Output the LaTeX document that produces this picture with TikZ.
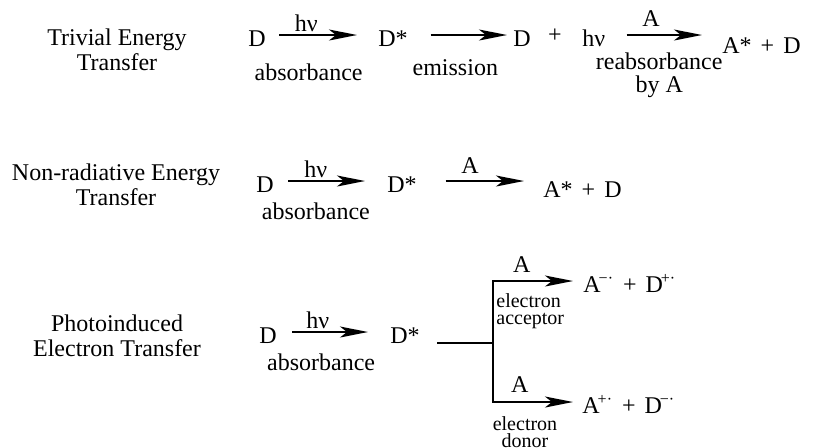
\documentclass[tikz,border=0pt]{standalone}
\usepackage{fontspec}
\setmainfont{Liberation Serif}
\usetikzlibrary{arrows.meta}

\begin{document}
\begin{tikzpicture}[x=0.5pt,y=-0.5pt,
  title/.style={align=center,inner sep=0pt,font=\fontsize{12}{12.5}\selectfont},
  sp/.style={inner sep=0pt,text height=11pt,text depth=0pt,font=\fontsize{12}{14}\selectfont},
  lab/.style={inner sep=0pt,font=\fontsize{12}{11.5}\selectfont},
  small/.style={inner sep=0pt,font=\fontsize{10}{8.5}\selectfont},
  rxn/.style={line width=0.9pt,-{Stealth[length=14pt,width=5.5pt,inset=3.5pt]}}]
\useasboundingbox (0,0) rectangle (813,447);

% trivial energy transfer
\node[title,anchor=base] (tTriv) at (117,70) {Trivial Energy\\Transfer};
\node[sp,anchor=base] (d1) at (257,46) {D};
\node[sp,anchor=base west] (ds1) at (378,46) {D*};
\node[sp,anchor=base west] (d1b) at (513,46) {D};
\node[sp,anchor=base] (pl1) at (555,42) {+};
\node[sp,anchor=base west] (hv1) at (582,46) {hν};
\node[sp,anchor=base west] (ad1) at (722,53) {A*\hspace{4.5pt}+\hspace{4.5pt}D};
\draw[rxn,shorten <=6.6pt,shorten >=10.5pt] (d1) --
  node[lab,pos=.36,anchor=base,yshift=2pt] (hvA1) {hν}
  node[lab,pos=.38,anchor=base,yshift=-22.5pt] (abs1) {absorbance} (ds1);
\draw[rxn,shorten <=11.3pt,shorten >=3pt] (ds1) --
  node[lab,pos=.45,anchor=base,yshift=-20pt] (emi1) {emission} (d1b);
\draw[rxn,shorten <=10.5pt,shorten >=10pt] (hv1) --
  node[lab,pos=.39,anchor=base,yshift=4.5pt] (aRe1) {A}
  node[lab,pos=.46,anchor=base,yshift=-28.5pt,align=center] (reabs1) {reabsorbance\\by A}
  (hv1 -| ad1.west);

% non-radiative energy transfer
\node[title,anchor=base] (tNon) at (116,205) {Non-radiative Energy\\Transfer};
\node[sp,anchor=base] (d2) at (265,192) {D};
\node[sp,anchor=base west] (ds2) at (387,192) {D*};
\node[sp,anchor=base west] (ad2) at (543,197) {A*\hspace{4.5pt}+\hspace{4.5pt}D};
\draw[rxn,shorten <=7.2pt,shorten >=11pt] (d2) --
  node[lab,pos=.37,anchor=base,yshift=2pt] (hvA2) {hν}
  node[lab,pos=.37,anchor=base,yshift=-19pt] (abs2) {absorbance} (ds2);
\draw[rxn,shorten <=14.3pt,shorten >=9.5pt] (ds2) --
  node[lab,pos=.42,anchor=base,yshift=4pt] (aNon2) {A} (ds2 -| ad2.west);

% photoinduced electron transfer
\node[title,anchor=base] (tPhoto) at (117,356) {Photoinduced\\Electron Transfer};
\node[sp,anchor=base] (d3) at (268,343) {D};
\node[sp,anchor=base west] (ds3) at (390,343) {D*};
\node[sp,anchor=base west] (ac3) at (583,292) {A\kern-1pt\textsuperscript{−·}\hspace{4.5pt}+\hspace{4.5pt}D\kern-1pt\textsuperscript{+·}};
\node[sp,anchor=base west] (dn3) at (582,413) {A\kern-1pt\textsuperscript{+·}\hspace{4.5pt}+\hspace{4.5pt}D\kern-1pt\textsuperscript{−·}};
\coordinate (br) at (493,343);
\draw[rxn,shorten <=7.6pt,shorten >=11pt] (d3) --
  node[lab,pos=.36,anchor=base,yshift=2pt] (hvA3) {hν}
  node[lab,pos=.39,anchor=base,yshift=-19pt] (abs3) {absorbance} (ds3);
\draw[line width=0.8pt,shorten <=8.5pt] (ds3.base east) -- (br);
\draw[rxn,shorten >=5pt] (br) |- node[lab,pos=.66,anchor=base,yshift=4.5pt] (aAcc) {A} (ac3);
\draw[rxn,shorten >=4.5pt] (br) |- node[lab,pos=.65,anchor=base,yshift=5pt] (aDon) {A} (dn3);
\node[small,anchor=north west,align=left] (acc) at (496,293) {electron\\acceptor};
\node[small,anchor=north,align=center] (don) at (525,416) {electron\\donor};
\end{tikzpicture}
\end{document}
